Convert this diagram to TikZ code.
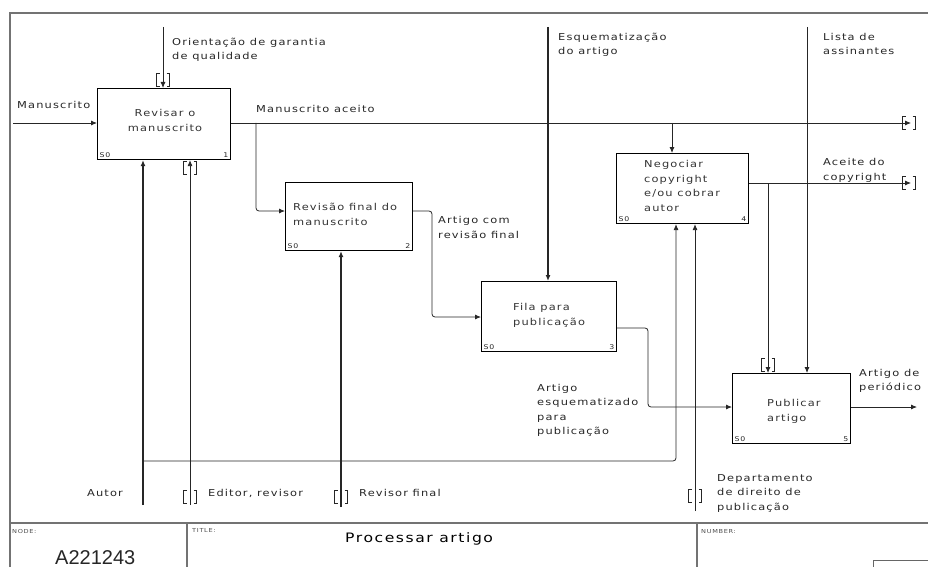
\documentclass[tikz,border=0pt]{standalone}
\usepackage{fontspec}
\setmainfont{DejaVu Sans}[FakeStretch=1.2, LetterSpace=12]
\newfontfamily\nodefont{Liberation Sans}
\usetikzlibrary{arrows.meta}

\tikzset{
  frame/.style={draw=black!55, line width=1.2pt},
  abox/.style={draw=black, line width=1.1pt, inner sep=0, anchor=north west},
  flow/.style={draw=black!85, line width=0.8pt, rounded corners=3pt},
  heavy/.style={flow, line width=1.3pt},
  arr/.style={-{Latex[length=6pt,width=5pt]}},
  % multi-line labels: the base anchor sits on the last line
  lbl/.style={inner sep=0, anchor=base west, align=left, text=black!85,
    font=\fontsize{9.5}{14.5}\selectfont},
  boxtxt/.style={lbl, text=black!80},
  corner/.style={inner sep=0, text=black!85, font=\fontsize{6.5}{6.5}\selectfont},
  tiny/.style={inner sep=0, anchor=base west, text=black!70,
    font=\fontsize{5.5}{6}\selectfont},
  tunnel/.pic={\draw[line width=0.8pt, black!85]
    (-3.5,-6.5) -- (-6.5,-6.5) -- (-6.5,6.5) -- (-3.5,6.5)
    (3.5,-6.5) -- (6.5,-6.5) -- (6.5,6.5) -- (3.5,6.5);}
}

\begin{document}
\begin{tikzpicture}[x=1pt,y=-1pt]
\useasboundingbox (0,0) rectangle (928,567);

% sheet frame and title block
\draw[frame] (10,567) -- (10,13) -- (928,13);
\draw[frame] (10,523) -- (928,523);
\draw[frame] (187,523) -- (187,567);
\draw[frame] (697,523) -- (697,567);
\draw[line width=0.8pt, black!60] (928,560) -- (873,560) -- (873,567);
\node[tiny] (nodehdr) at (12,533) {NODE:};
\node[tiny] (titlehdr) at (192,532) {TITLE:};
\node[tiny] (numhdr) at (701,533) {NUMBER:};
\node[inner sep=0, anchor=base west, text=black!85, font=\nodefont\fontsize{20}{20}\selectfont] (nodeid) at (55,564) {A221243};
\node[inner sep=0, anchor=base west, text=black, font=\fontsize{13}{13}\selectfont] (title) at (345,542) {Processar artigo};

% activity boxes
\node[abox, minimum width=133pt, minimum height=71pt] (b1) at (97,88) {};
\node[abox, minimum width=127pt, minimum height=68pt] (b2) at (285,182) {};
\node[abox, minimum width=135pt, minimum height=70pt] (b3) at (481,281) {};
\node[abox, minimum width=132pt, minimum height=70pt] (b4) at (616,153) {};
\node[abox, minimum width=118pt, minimum height=70pt] (b5) at (732,373) {};

\node[boxtxt, align=center, anchor=base] (b1txt) at (165,131.5) {Revisar o\\manuscrito};
\node[boxtxt] (b2txt) at (293,225) {Revisão final do\\manuscrito};
\node[boxtxt] (b3txt) at (513,325) {Fila para\\publicação};
\node[boxtxt] (b4txt) at (644,211) {Negociar\\copyright\\e/ou cobrar\\autor};
\node[boxtxt] (b5txt) at (767,421) {Publicar\\artigo};

\foreach \b/\n in {b1/1,b2/2,b3/3,b4/4,b5/5}{
  \node[corner, anchor=south west] (\b s) at ([shift={(2.5pt,2.5pt)}]\b.south west) {S0};
  \node[corner, anchor=south east] (\b n) at ([shift={(-2.5pt,2.5pt)}]\b.south east) {\n};
}

% free ends of the boundary arrows
\coordinate (inM) at (13,123);
\coordinate (ctlO) at (163,27);
\coordinate (ctlE) at (548,27);
\coordinate (ctlL) at (807,27);
\coordinate (outA) at (911,123);
\coordinate (outC) at (911,183);
\coordinate (outP) at (917,407);
\coordinate (mAut) at (143,505);
\coordinate (mEd) at (190,505);
\coordinate (mRev) at (341,507);
\coordinate (mDep) at (695,511);

% bend points
\coordinate (j1) at (256,123);
\coordinate (j2) at (256,211);
\coordinate (j4) at (672,123);
\coordinate (k2) at (432,211);
\coordinate (k3) at (432,317);
\coordinate (q3) at (648,328);
\coordinate (q5) at (648,407);
\coordinate (jc) at (768,183);
\coordinate (ja) at (143,461);
\coordinate (ka) at (676,461);

% inputs
\draw[flow, arr] (inM) -- (inM -| b1.west);
\draw[flow, arr] (j1) |- (b2.west |- j2);
\draw[flow, arr] (b2.east |- k2) -- (k2) -- (k3) -- (b3.west |- k3);
\draw[flow, arr] (b3.east |- q3) -- (q3) -- (q5) -- (b5.west |- q5);

% controls
\draw[flow, arr] (ctlO) -- (ctlO |- b1.north);
\pic (tO) at (163,80) {tunnel};
\draw[heavy, arr] (ctlE) -- (ctlE |- b3.north);
\draw[flow, arr] (ctlL) -- (ctlL |- b5.north);
\draw[flow, arr] (j4) -- (j4 |- b4.north);
\draw[flow, arr] (jc) -- (jc |- b5.north);
\pic (tC) at (768,365) {tunnel};

% outputs
\draw[flow, arr] (b1.east |- j1) -- (outA);
\pic (tA) at (909,123) {tunnel};
\draw[flow, arr] (b4.east |- jc) -- (outC);
\pic (tCp) at (909,183) {tunnel};
\draw[flow, arr] (b5.east |- outP) -- (outP);

% mechanisms
\draw[heavy, arr] (mAut) -- (mAut |- b1.south);
\draw[flow, arr] (ja) -- (ka) -- (ka |- b4.south);
\draw[flow, arr] (mEd) -- (mEd |- b1.south);
\pic (tE) at (190,168) {tunnel};
\pic (tEb) at (190,497) {tunnel};
\draw[heavy, arr] (mRev) -- (mRev |- b2.south);
\pic (tR) at (341,497) {tunnel};
\draw[flow, arr] (mDep) -- (mDep |- b4.south);
\pic (tD) at (695,496) {tunnel};

% arrow labels (positions are the baseline of the last line)
\node[lbl] (lManu) at (17,109) {Manuscrito};
\node[lbl] (lOri) at (172,60) {Orientação de garantia\\de qualidade};
\node[lbl] (lAce) at (256,113) {Manuscrito aceito};
\node[lbl] (lEsq) at (558,55) {Esquematização\\do artigo};
\node[lbl] (lLis) at (823,55) {Lista de\\assinantes};
\node[lbl] (lCop) at (823,180) {Aceite do\\copyright};
\node[lbl] (lRev) at (438,238) {Artigo com\\revisão final};
\node[lbl] (lEsqP) at (537,434.5) {Artigo\\esquematizado\\para\\publicação};
\node[lbl] (lPer) at (859,390.5) {Artigo de\\periódico};
\node[lbl, anchor=base east] (lAut) at (123,496) {Autor};
\node[lbl] (lEd) at (208,496) {Editor, revisor};
\node[lbl] (lRf) at (359,496) {Revisor final};
\node[lbl] (lDep) at (717,510) {Departamento\\de direito de\\publicação};
\end{tikzpicture}
\end{document}
